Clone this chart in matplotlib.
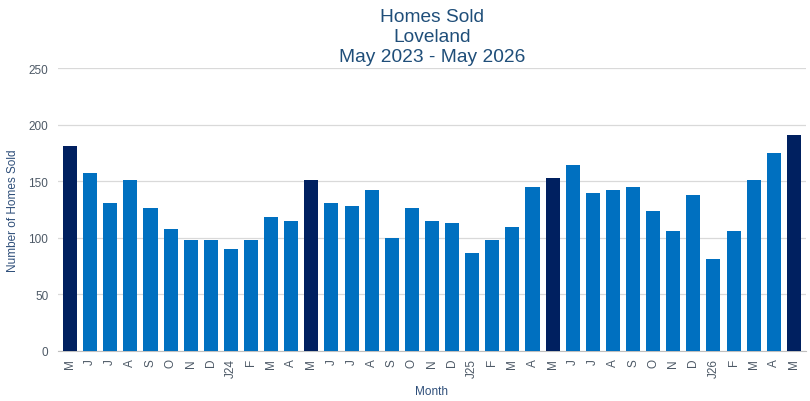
import matplotlib.pyplot as plt
import numpy as np

plt.rcParams['font.family'] = ['Liberation Sans', 'DejaVu Sans']

months = ["M", "J", "J", "A", "S", "O", "N", "D", "J24", "F", "M", "A",
          "M", "J", "J", "A", "S", "O", "N", "D", "J25", "F", "M", "A",
          "M", "J", "J", "A", "S", "O", "N", "D", "J26", "F", "M", "A", "M"]
homes_sold = [181, 157, 131, 151, 126, 108, 98, 98, 90, 98, 118, 115,
              151, 131, 128, 142, 100, 126, 115, 113, 87, 98, 110, 145,
              153, 164, 140, 142, 145, 124, 106, 138, 81, 106, 151, 175, 191]
highlight = [0, 12, 24, 36]  # the May bars

x = np.arange(len(months))
colors = ["#002060" if i in highlight else "#0070C0" for i in x]

fig = plt.figure(figsize=(8.1, 4.02), dpi=100)
ax = fig.add_axes([0.0716, 0.1244, 0.9234, 0.7036])

ax.bar(x, homes_sold, width=0.7, color=colors, zorder=3)

ax.set_ylim(0, 250)
ax.set_yticks(np.arange(0, 251, 50))
ax.set_xlim(-0.6, len(months) - 0.4)
ax.set_xticks(x)
ax.set_xticklabels(months, rotation=90)
ax.grid(axis="y", color="#D9D9D9", linewidth=0.9, zorder=0)

for side in ["top", "right", "left"]:
    ax.spines[side].set_visible(False)
ax.spines["bottom"].set_color("#BFBFBF")
ax.tick_params(axis="both", length=0, labelsize=8.5, labelcolor="#4D5966")
ax.tick_params(axis="x", pad=5)
ax.tick_params(axis="y", pad=7)

ax.set_xlabel("Month", fontsize=8.5, color="#2F4F7A", labelpad=6)
ax.set_ylabel("Number of Homes Sold", fontsize=8.5, color="#2F4F7A", labelpad=7)
ax.set_title("Homes Sold\nLoveland\nMay 2023 - May 2026", fontsize=13.8,
             color="#1F4E79", linespacing=1.22, pad=5)

plt.savefig("out.png", dpi=100)
